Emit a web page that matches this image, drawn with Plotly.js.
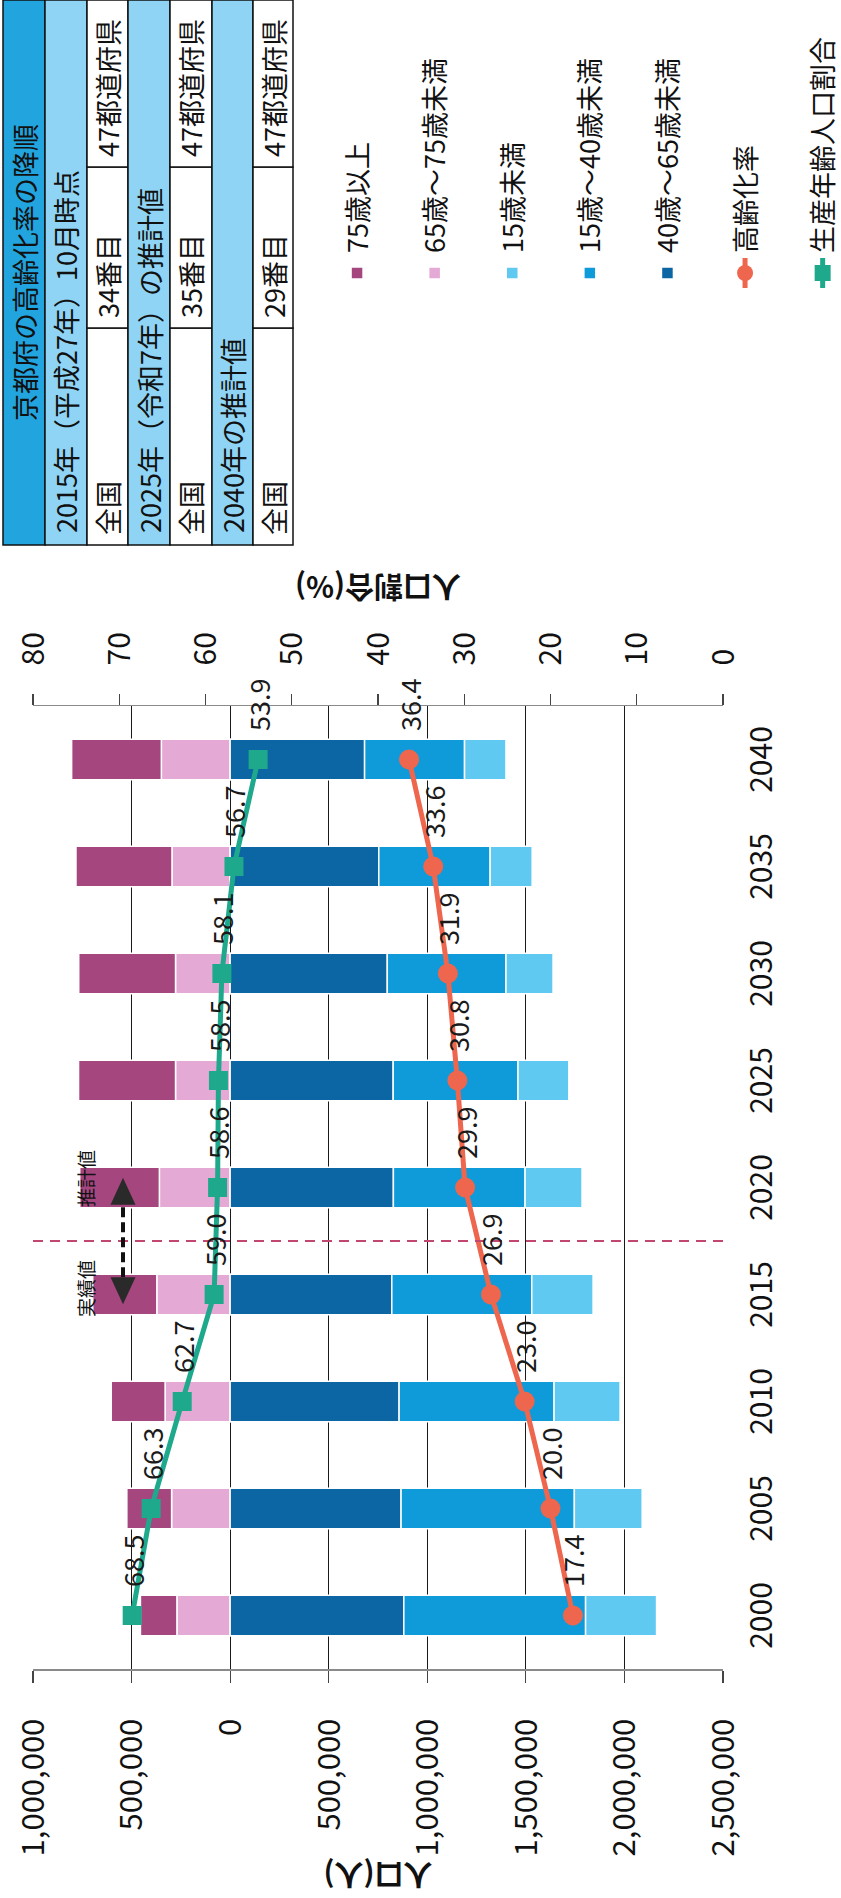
<!DOCTYPE html>
<html><head><meta charset="utf-8">
<script src="https://cdn.plot.ly/plotly-3.0.1.min.js"></script>
<style>
html,body{margin:0;padding:0;width:841px;height:1898px;overflow:hidden;background:#fff;}
#wrap{position:absolute;left:0;top:0;width:1898px;height:841px;transform-origin:0 0;transform:translate(0px,1898px) rotate(-90deg);}
#chart{width:1898px;height:841px;}
</style></head><body><div id="wrap"><div id="chart"></div></div>
<script>
// ---------------- data ----------------
const years = [2000, 2005, 2010, 2015, 2020, 2025, 2030, 2035, 2040];
const pop75plus  = [185000, 227000, 273000, 325000, 404000, 492000, 491000, 487000, 455000];
const pop65to75  = [270000, 297000, 330000, 372000, 359000, 277000, 277000, 295000, 349000];
const pop40to65  = [881000, 867000, 857000, 820000, 828000, 827000, 797000, 754000, 682000];
const pop15to40  = [922000, 879000, 786000, 710000, 668000, 633000, 602000, 565000, 507000];
const pop0to15   = [360000, 344000, 335000, 311000, 289000, 258000, 239000, 213000, 210000];
const agingRate       = [17.4, 20.0, 23.0, 26.9, 29.9, 30.8, 31.9, 33.6, 36.4];
const workingAgeShare = [68.5, 66.3, 62.7, 59.0, 58.6, 58.5, 58.1, 56.7, 53.9];
const popTicks = [-1000000, -500000, 0, 500000, 1000000, 1500000, 2000000, 2500000];
const pctTicks = [0, 10, 20, 30, 40, 50, 60, 70, 80];
const seriesNames = ['75歳以上', '65歳～75歳未満', '15歳未満', '15歳～40歳未満', '40歳～65歳未満', '高齢化率', '生産年齢人口割合'];
const tableTitle = '京都府の高齢化率の降順';
const rankPeriods = ['2015年（平成27年）10月時点', '2025年（令和7年）の推計値', '2040年の推計値'];
const rankScope = '全国';
const rankValues = ['34番目', '35番目', '29番目'];
const rankTotal = '47都道府県';
const actualLabel = '実績値';
const forecastLabel = '推計値';

// ---------------- geometry (landscape frame, rotated by CSS) ----------------
const W = 1898, H = 841;
const M = {l: 229, r: 706, t: 33, b: 118};
const PW = W - M.l - M.r, PH = H - M.t - M.b;
const px = ox => (ox - M.l) / PW;
const py = oy => 1 - (oy - M.t) / PH;
const FONT = '"Noto Sans CJK JP", "Noto Sans", sans-serif';
const C = {c75: '#a5467f', c65: '#e4aad5', c0: '#5fc9f1', c15: '#0f9bd9', c40: '#0c66a3',
           aging: '#ee664d', working: '#1fa98c', header: '#22a4de', light: '#8fd4f4'};
const neg = a => a.map(v => -v);
const dividerYear = (years[3] + years[4]) / 2;

function bar(name, y, color, rank) {
  return {type: 'bar', name, x: years, y, width: 1.89, legendrank: rank, legendgroup: 'g' + rank,
          marker: {color, line: {color: '#ffffff', width: 1.5}}, hoverinfo: 'skip'};
}
const traces = [
  bar(seriesNames[1], neg(pop65to75), C.c65, 2),
  bar(seriesNames[0], neg(pop75plus), C.c75, 1),
  bar(seriesNames[4], pop40to65, C.c40, 5),
  bar(seriesNames[3], pop15to40, C.c15, 4),
  bar(seriesNames[2], pop0to15, C.c0, 3),
  {type: 'scatter', mode: 'lines+markers', name: seriesNames[5], x: years, y: agingRate, yaxis: 'y2',
   legendrank: 6, legendgroup: 'g6', line: {color: C.aging, width: 5},
   marker: {symbol: 'circle', size: 20, color: C.aging}, hoverinfo: 'skip'},
  {type: 'scatter', mode: 'lines+markers', name: seriesNames[6], x: years, y: workingAgeShare, yaxis: 'y2',
   legendrank: 7, legendgroup: 'g7', line: {color: C.working, width: 5},
   marker: {symbol: 'square', size: 19, color: C.working}, hoverinfo: 'skip'}
];

// data labels
const annotations = [];
function addLabels(vals) {
  years.forEach((yr, i) => annotations.push({x: yr, y: vals[i], xref: 'x', yref: 'y2',
    text: vals[i].toFixed(1), showarrow: false, xanchor: 'left', yanchor: 'middle', xshift: 26,
    font: {size: 27, color: '#1a1a1a'}}));
}
addLabels(agingRate);
addLabels(workingAgeShare);

// actual / forecast labels
annotations.push({x: dividerYear - 2.2, y: py(85), xref: 'x', yref: 'paper', text: actualLabel,
  showarrow: false, xanchor: 'center', yanchor: 'middle', font: {size: 19, color: '#111'}});
annotations.push({x: dividerYear + 2.94, y: py(85), xref: 'x', yref: 'paper', text: forecastLabel,
  showarrow: false, xanchor: 'center', yanchor: 'middle', font: {size: 19, color: '#111'}});

const shapes = [];
// divider
shapes.push({type: 'line', xref: 'x', yref: 'paper', x0: dividerYear, x1: dividerYear, y0: 0, y1: 1,
  line: {color: '#c2476e', width: 2, dash: '10px,7px'}, layer: 'above'});
// double arrow
const arrowY = py(123);
shapes.push({type: 'line', xref: 'x', yref: 'paper', x0: dividerYear - 2.4, x1: dividerYear + 2.4, y0: arrowY, y1: arrowY,
  line: {color: '#111', width: 4, dash: '10px,5px'}, layer: 'above'});
shapes.push({type: 'path', xref: 'x', yref: 'paper', xsizemode: 'pixel', ysizemode: 'pixel',
  xanchor: dividerYear + 2.95, yanchor: arrowY, path: 'M0,0 L-27,-12.5 L-27,12.5 Z',
  fillcolor: '#2a2a2a', line: {width: 0}, layer: 'above'});
shapes.push({type: 'path', xref: 'x', yref: 'paper', xsizemode: 'pixel', ysizemode: 'pixel',
  xanchor: dividerYear - 2.95, yanchor: arrowY, path: 'M0,0 L27,-12.5 L27,12.5 Z',
  fillcolor: '#2a2a2a', line: {width: 0}, layer: 'above'});

// ranking table (top right of landscape frame)
const T = {x0: 1353, x1: 1898, rows: [3, 45, 87, 128, 170, 212, 253, 293], cols: [1353, 1570, 1731, 1898]};
function rect(ox0, ox1, oy0, oy1, fill) {
  shapes.push({type: 'rect', xref: 'paper', yref: 'paper', x0: px(ox0), x1: px(ox1), y0: py(oy1), y1: py(oy0),
    fillcolor: fill, line: {color: '#111', width: 1.5}, layer: 'above'});
}
function txt(text, ox, oy, anchor) {
  annotations.push({x: px(ox), y: py(oy), xref: 'paper', yref: 'paper', text, showarrow: false,
    xanchor: anchor, yanchor: 'middle', font: {size: 27, color: '#111'}});
}
rect(T.x0, T.x1, T.rows[0], T.rows[1], C.header);
txt(tableTitle, (T.x0 + T.x1) / 2, (T.rows[0] + T.rows[1]) / 2, 'center');
rankPeriods.forEach((p, i) => {
  const r0 = T.rows[1 + 2 * i], r1 = T.rows[2 + 2 * i], r2 = T.rows[3 + 2 * i];
  rect(T.x0, T.x1, r0, r1, C.light);
  txt(p, T.x0 + 10, (r0 + r1) / 2, 'left');
  const cells = [rankScope, rankValues[i], rankTotal];
  cells.forEach((c, j) => {
    rect(T.cols[j], T.cols[j + 1], r1, r2, '#ffffff');
    txt(c, T.cols[j] + 8, (r1 + r2) / 2, 'left');
  });
});

const layout = {
  width: W, height: H, margin: {l: M.l, r: M.r, t: M.t, b: M.b, pad: 0, autoexpand: false},
  paper_bgcolor: '#ffffff', plot_bgcolor: 'rgba(0,0,0,0)',
  barmode: 'relative',
  font: {family: FONT, color: '#111', size: 28},
  xaxis: {range: [1997.5, 2042.5], tickvals: years, ticktext: years.map(String), ticks: '',
    showgrid: false, zeroline: false, showline: false, tickfont: {size: 30}, ticklabelstandoff: 18},
  yaxis: {range: [2500000, -1000000], tickvals: popTicks,
    ticktext: popTicks.map(v => Math.abs(v).toLocaleString('en-US')),
    showgrid: true, gridcolor: '#1a1a1a', gridwidth: 1.2, zeroline: false,
    showline: true, linecolor: '#8a8a8a', linewidth: 1.5, ticks: 'outside', ticklen: 12,
    tickcolor: '#444', tickwidth: 1.2, tickfont: {size: 31}, ticklabelstandoff: 30,
    title: {text: '人口(人)', font: {size: 29, weight: 700}, standoff: 14}},
  yaxis2: {overlaying: 'y', side: 'right', range: [0, 80], tickvals: pctTicks, showgrid: false,
    zeroline: false, showline: true, linecolor: '#8a8a8a', linewidth: 1.5, ticks: 'outside', ticklen: 11,
    tickcolor: '#444', tickwidth: 1.2, tickfont: {size: 30}, ticklabelstandoff: 22,
    title: {text: '人口割合(%)', font: {size: 29, weight: 700}, standoff: 37}},
  showlegend: true,
  legend: {x: px(1605), xanchor: 'left', y: py(333), yanchor: 'top', traceorder: 'grouped',
    tracegroupgap: 39.5, itemwidth: 30, font: {size: 27, color: '#111'}, bgcolor: 'rgba(0,0,0,0)'},
  shapes, annotations
};
Plotly.newPlot('chart', traces, layout, {displayModeBar: false, staticPlot: true});
</script></body></html>
